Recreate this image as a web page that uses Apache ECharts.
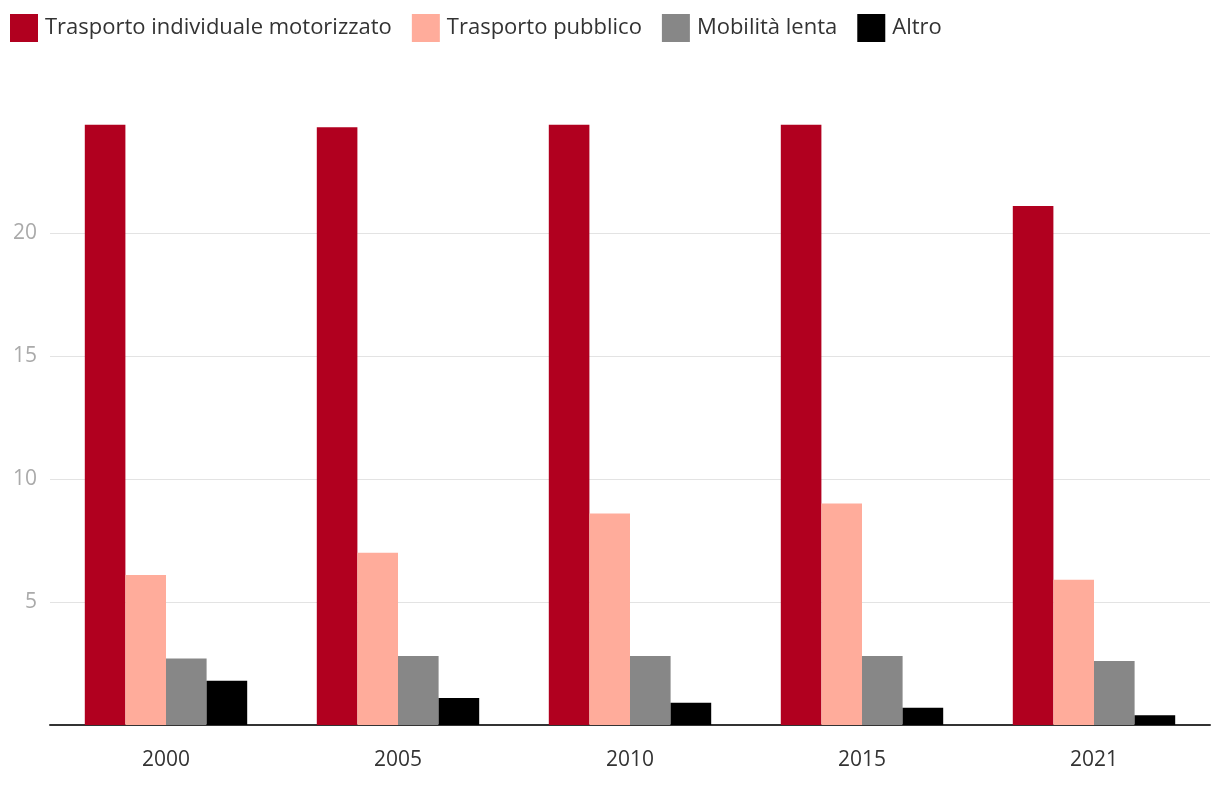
<!DOCTYPE html>
<html><head><meta charset="utf-8">
<script src="https://cdn.jsdelivr.net/npm/echarts@6/dist/echarts.min.js"></script>
<style>html,body{margin:0;padding:0;background:#fff}#c{width:1220px;height:792px}</style>
</head><body><div id="c"></div>
<script>
const years = ['2000', '2005', '2010', '2015', '2021'];
const seriesNames = ['Trasporto individuale motorizzato', 'Trasporto pubblico', 'Mobilità lenta', 'Altro'];
const tim = [24.4, 24.3, 24.4, 24.4, 21.1];
const tp = [6.1, 7.0, 8.6, 9.0, 5.9];
const ml = [2.7, 2.8, 2.8, 2.8, 2.6];
const altro = [1.8, 1.1, 0.9, 0.7, 0.4];
const colors = ['#b1001f', '#ffac9b', '#878787', '#000000'];
const values = [tim, tp, ml, altro];
const font = 'Open Sans';
const chart = echarts.init(document.getElementById('c'));
chart.setOption({
  animation: false,
  textStyle: {fontFamily: font},
  legend: {
    left: 5, top: 9, itemWidth: 28, itemHeight: 28, itemGap: 20,
    icon: 'rect',
    textStyle: {fontSize: 22, color: '#333', fontFamily: font, padding: [0, 0, 0, 2]},
    data: seriesNames
  },
  grid: {left: 50, right: 10, top: 110, bottom: 67, containLabel: false},
  xAxis: {
    type: 'category', data: years,
    axisLine: {lineStyle: {color: '#333', width: 2}},
    axisTick: {alignWithLabel: true, length: 6, lineStyle: {color: '#333'}},
    axisLabel: {fontSize: 21, color: '#333', margin: 25, fontFamily: font}
  },
  yAxis: {
    type: 'value', min: 0, max: 25, interval: 5,
    axisLine: {show: false}, axisTick: {show: false},
    axisLabel: {fontSize: 21, color: '#aaa', margin: 13, showMaxLabel: false, showMinLabel: false, fontFamily: font},
    splitLine: {lineStyle: {color: '#e3e3e3'}, showMaxLine: false}
  },
  series: values.map((v, i) => ({
    name: seriesNames[i], type: 'bar', data: v,
    barGap: '0%', barCategoryGap: '30%',
    itemStyle: {color: colors[i]}
  }))
});
</script></body></html>
